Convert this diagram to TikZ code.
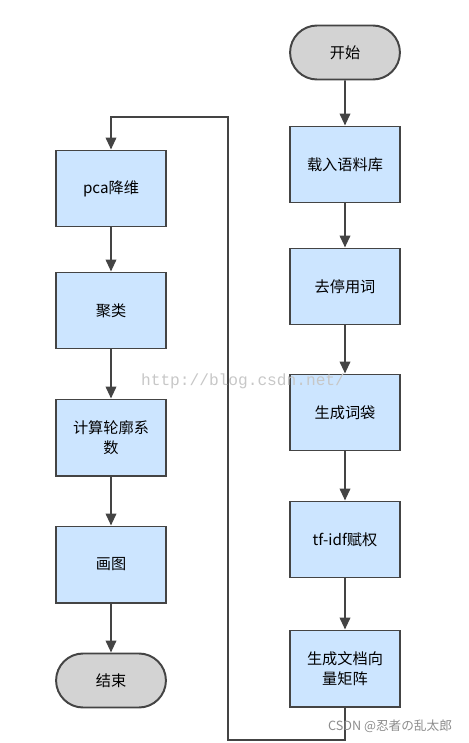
\documentclass[tikz,border=0pt]{standalone}
\usepackage{fontspec}
\setmainfont{Noto Sans CJK SC}
\newfontfamily\jpfont{Noto Sans CJK JP}
\newfontfamily\wmfont{Liberation Mono}
\usetikzlibrary{arrows.meta,positioning,calc,shapes.misc}
\definecolor{boxblue}{RGB}{204,229,255}
\definecolor{termgray}{RGB}{211,211,211}
\definecolor{linegray}{RGB}{68,68,68}

\begin{document}
\begin{tikzpicture}[
    x=0.025cm, y=-0.025cm,
    font=\fontsize{10.8}{14}\selectfont,
    proc/.style={draw=linegray, line width=1.4pt, fill=boxblue, align=center,
      minimum width=2.75cm, minimum height=1.9cm, inner sep=2pt},
    term/.style={draw=linegray, line width=1.4pt, fill=termgray, align=center,
      rounded rectangle, minimum width=2.98cm, minimum height=1.35cm},
    arrow/.style={-{Triangle[length=8.5pt,width=7.5pt]}, line width=1.4pt, draw=linegray}
  ]
    \useasboundingbox (0,0) rectangle (468,743);
    % right column
    \node[term] (start) at (345,52.5) {开始};
    \node[proc, below=1.125cm of start] (load) {载入语料库};
    \node[proc, below=1.1cm of load] (stopw) {去停用词};
    \node[proc, below=1.2cm of stopw] (bag) {生成词袋};
    \node[proc, below=1.225cm of bag] (tfidf) {tf-idf赋权};
    \node[proc, below=1.275cm of tfidf] (vecmat) {生成文档向\\量矩阵};
    % left column
    \node[proc] (pca) at (111,188.5) {pca降维};
    \node[proc, below=1.1cm of pca] (cluster) {聚类};
    \node[proc, below=1.225cm of cluster] (silh) {计算轮廓系\\数};
    \node[proc, below=1.225cm of silh] (plot) {画图};
    \node[term, below=1.225cm of plot] (finish) {结束};
    % connectors
    \draw[arrow] (start) -- (load);
    \draw[arrow] (load) -- (stopw);
    \draw[arrow] (stopw) -- (bag);
    \draw[arrow] (bag) -- (tfidf);
    \draw[arrow] (tfidf) -- (vecmat);
    \coordinate (loopbot) at (228,740);
    \coordinate (looptop) at (228,117);
    \draw[arrow] (vecmat.south) |- (loopbot) -- (looptop) -| (pca.north);
    \draw[arrow] (pca) -- (cluster);
    \draw[arrow] (cluster) -- (silh);
    \draw[arrow] (silh) -- (plot);
    \draw[arrow] (plot) -- (finish);
    % watermarks
    \node[text=black!22, font=\wmfont\fontsize{11.5}{13}\selectfont, inner sep=0pt]
      (wmurl) at (243,381) {http://blog.csdn.net/};
    \node[text=black!45, font=\jpfont\fontsize{9}{11}\selectfont, inner sep=0pt]
      (wmcsdn) at (390,726) {CSDN @忍者の乱太郎};
\end{tikzpicture}
\end{document}
